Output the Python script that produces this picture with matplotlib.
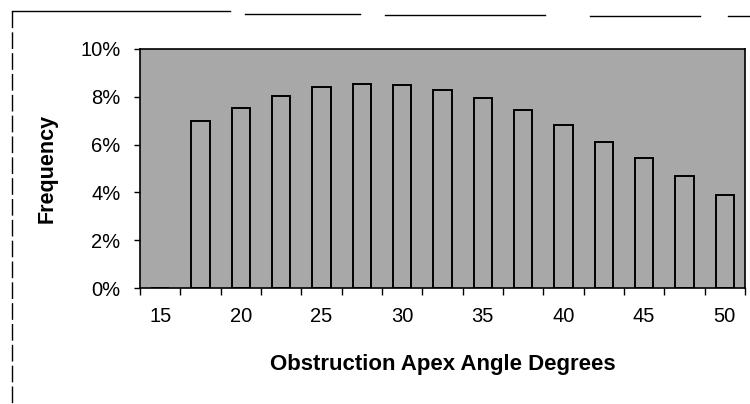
import numpy as np
import matplotlib
matplotlib.use("Agg")
import matplotlib.pyplot as plt
from matplotlib.lines import Line2D
from matplotlib.ticker import PercentFormatter

# angle categories (every 2.5 degrees), only every other one is labelled
angles = [15, 17.5, 20, 22.5, 25, 27.5, 30, 32.5, 35, 37.5, 40, 42.5, 45, 47.5, 50]
freq_pct = [0.0, 7.0, 7.55, 8.05, 8.4, 8.55, 8.5, 8.3, 7.95, 7.45, 6.8, 6.1, 5.45, 4.7, 3.9]
y_ticks = [0, 2, 4, 6, 8, 10]

plt.rcParams['font.family'] = ['Liberation Sans', 'DejaVu Sans']

fig = plt.figure(figsize=(7.5, 4.04), dpi=100)
ax = fig.add_axes([140 / 750, 1 - 288 / 404, 605 / 750, 239 / 404])

bg = '#a8a8a8'
ax.set_facecolor(bg)

pos = np.arange(len(angles))
ax.bar(pos, freq_pct, width=0.45, color=bg, edgecolor='black', linewidth=1.4)

ax.set_xlim(-0.5, len(angles) - 0.5)
ax.set_ylim(0, 10)
ax.set_yticks(y_ticks)
ax.yaxis.set_major_formatter(PercentFormatter(decimals=0))

# ticks at category boundaries, labels at every other category centre
ax.set_xticks(np.arange(len(angles) + 1) - 0.5)
ax.set_xticklabels([])
ax.set_xticks(pos[::2], minor=True)
ax.set_xticklabels([f'{a:g}' for a in angles[::2]], minor=True)
ax.tick_params(axis='x', which='minor', length=0, pad=14, labelsize=14.5)
ax.tick_params(axis='x', which='major', length=5, width=1, direction='out')
ax.tick_params(axis='y', length=4, width=1, pad=10, labelsize=14.5)

for s in ax.spines.values():
    s.set_linewidth(1.2)
    s.set_color('black')

ax.set_xlabel('Obstruction Apex Angle Degrees', fontsize=16, fontweight='bold', labelpad=20)
ax.set_ylabel('Frequency', fontsize=15.5, fontweight='bold', labelpad=16)

# scanned outer frame (top and left only visible)
W, H = 750, 404
segs = [((12, 230), 11), ((245, 360), 14), ((385, 545), 15), ((590, 700), 16), ((728, 750), 16)]
for (x0, x1), y in segs:
    fig.add_artist(Line2D([x0 / W, x1 / W], [1 - y / H, 1 - y / H], color='black', lw=1))
fig.add_artist(Line2D([12 / W, 12 / W], [1 - 11 / H, 0], color='black', lw=1, ls=(0, (12, 3))))

fig.savefig('out.png', dpi=100)
